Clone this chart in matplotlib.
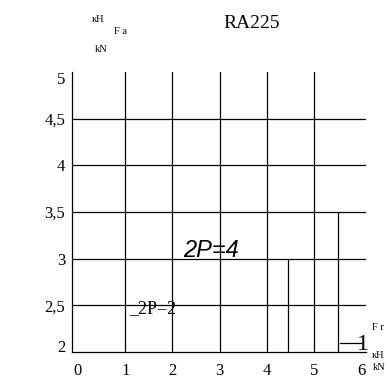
import matplotlib
matplotlib.use("Agg")
import matplotlib.pyplot as plt

W, H, DPI = 390, 381, 100
SERIF = "Liberation Serif"
SANS = "Liberation Sans"

# axis ticks (radial load Fr, axial load Fa, both in kN)
x_ticks = [0, 1, 2, 3, 4, 5, 6]
x_labels = ["0", "1", "2", "3", "4", "5", "6"]
y_ticks = [2, 2.5, 3, 3.5, 4, 4.5, 5]
y_labels = ["2", "2,5", "3", "3,5", "4", "4,5", "5"]

# grid lines
grid_x = [1, 2, 3, 4, 5]
grid_y = [2.5, 3, 3.5, 4, 4.5]

# Fr limits: vertical segments rising from the base to their Fa level
limit_fr = [4.45, 5.5]
limit_fa = [3.0, 3.5]

# curve marker for "1"
marker_fr = [5.55, 6.0]
marker_fa = [2.1, 2.1]

title = "RA225"

fig = plt.figure(figsize=(W / DPI, H / DPI), dpi=DPI)
fig.patch.set_facecolor("white")

left, right, top, bottom = 72.3, 366.0, 72.0, 352.0
ax = fig.add_axes([left / W, 1 - bottom / H, (right - left) / W, (bottom - top) / H])
ax.set_xlim(-0.12, 6.10)
ax.set_ylim(2, 5)

LW = 0.9
for s in ("top", "right"):
    ax.spines[s].set_visible(False)
for s in ("left", "bottom"):
    ax.spines[s].set_linewidth(LW)
    ax.spines[s].set_color("black")

for gx in grid_x:
    ax.axvline(gx, color="black", lw=LW)
for gy in grid_y:
    ax.axhline(gy, color="black", lw=LW)

ax.vlines(limit_fr, 2, limit_fa, color="black", lw=LW)
ax.plot(marker_fr, marker_fa, color="black", lw=LW)

ax.set_xticks(x_ticks, x_labels, fontfamily=SERIF, fontsize=12)
ax.set_yticks(y_ticks, y_labels, fontfamily=SERIF, fontsize=12)
ax.tick_params(axis="x", length=0, pad=8)
ax.tick_params(axis="y", length=0, pad=5)
ylabs = ax.get_yticklabels()
ylabs[0].set_verticalalignment("baseline")
ylabs[-1].set_verticalalignment("top")

# curve labels
ax.text(2.23, 3.02, "2P=4", fontfamily=SANS, fontstyle="italic",
        fontsize=17, ha="left", va="baseline")

ax.annotate("_2P=2", (1.08, 2.5), xytext=(0, -5.5), textcoords="offset points",
            fontfamily=SERIF, fontsize=13, ha="left", va="baseline")

ax.text(6.04, 2.02, "1", fontfamily=SERIF, fontsize=17, ha="center",
        va="baseline", clip_on=False)

# title and unit labels
fig.text(252 / W, 1 - 23 / H, title, fontfamily=SERIF, fontsize=14,
         ha="center", va="center")

units = [
    ("кН", 97.5, 19), ("F a", 121, 32), ("kN", 101.5, 50),
    ("F r", 378, 327), ("кН", 378.5, 355), ("kN", 379, 368),
]
for txt, px, py in units:
    fig.text(px / W, 1 - py / H, txt, fontfamily=SERIF, fontsize=7.5,
             ha="center", va="center")

fig.savefig("out.png", dpi=DPI)
